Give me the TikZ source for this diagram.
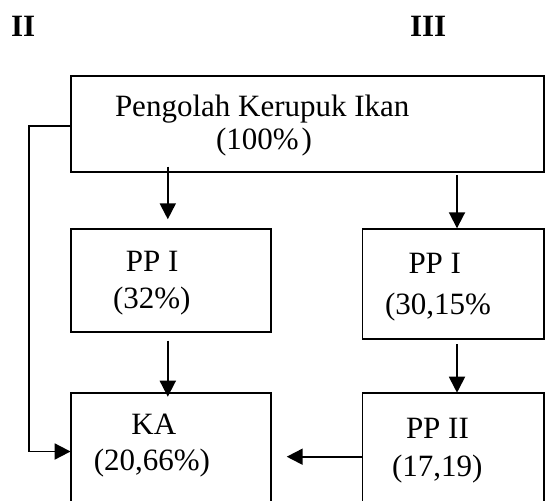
\documentclass[tikz,border=0pt]{standalone}
\usepackage{fontspec}
\setmainfont{Liberation Serif}
\usetikzlibrary{arrows.meta}
\begin{document}
\begin{tikzpicture}[x=1pt,y=-1pt,
  box/.style={draw,line width=1.8pt,anchor=north west,inner sep=0pt,outer sep=0pt},
  txt/.style={anchor=base west,inner sep=0pt,outer sep=0pt,font=\fontsize{31}{37}\selectfont},
  hdr/.style={txt,font=\fontsize{31}{37}\selectfont\bfseries},
  arr/.style={line width=1.9pt,-{Triangle[length=16pt,width=16pt]}}]
\useasboundingbox (0,0) rectangle (545,500);
\clip (0,0) rectangle (545,500);
\fill[white] (0,0) rectangle (545,500);
% headers
\node[hdr] (h2) at (11,37) {II};
\node[hdr] (h3) at (410,37) {III};
% boxes
\node[box,minimum width=473.4pt,minimum height=96pt] (top) at (70.6,75.7) {};
\node[box,minimum width=200.4pt,minimum height=102.4pt] (ppa) at (70.6,229.3) {};
\node[box,minimum width=181.5pt,minimum height=110pt] (ppb) at (362.5,229.3) {};
\node[box,minimum width=200.4pt,minimum height=125pt] (ka) at (70.6,393.3) {};
\node[box,minimum width=181.5pt,minimum height=125pt] (pp2) at (362.5,393.3) {};
% texts
\node[txt] (t1) at (115,116.7) {Pengolah Kerupuk Ikan};
\node[txt] (t2) at (216,149) {(100\%\kern3pt)};
\node[txt] (t3) at (125.8,271) {PP I};
\node[txt] (t4) at (113,308) {(32\%)};
\node[txt] (t5) at (408.5,273.3) {PP I};
\node[txt] (t6) at (385,314) {(30,15\%};
\node[txt] (t7) at (131.4,434) {KA};
\node[txt] (t8) at (93.8,470) {(20,66\%)};
\node[txt] (t9) at (406,438) {PP II};
\node[txt] (t10) at (392,476.7) {(17,19)};
% connector ends
\coordinate (a1s) at (167.8,166.7);
\coordinate (a1e) at (167.8,219.3);
\coordinate (a2s) at (457,175);
\coordinate (a2e) at (457,228.3);
\coordinate (a3s) at (167.8,340.7);
\coordinate (a3e) at (167.8,396.7);
\coordinate (a4s) at (457,344);
\coordinate (a4e) at (457,392.7);
\coordinate (a5e) at (286.7,456.7);
\coordinate (l1) at (29.2,125.7);
\coordinate (l2) at (29.2,451.5);
% connectors
\draw[arr] (a1s) -- (a1e);
\draw[arr] (a2s) -- (a2e);
\draw[arr] (a3s) -- (a3e);
\draw[arr] (a4s) -- (a4e);
\draw[arr] (pp2.west |- a5e) -- (a5e);
\draw[arr] (top.west |- l1) -- (l1) -- (l2) -- (ka.west |- l2);
\end{tikzpicture}
\end{document}
